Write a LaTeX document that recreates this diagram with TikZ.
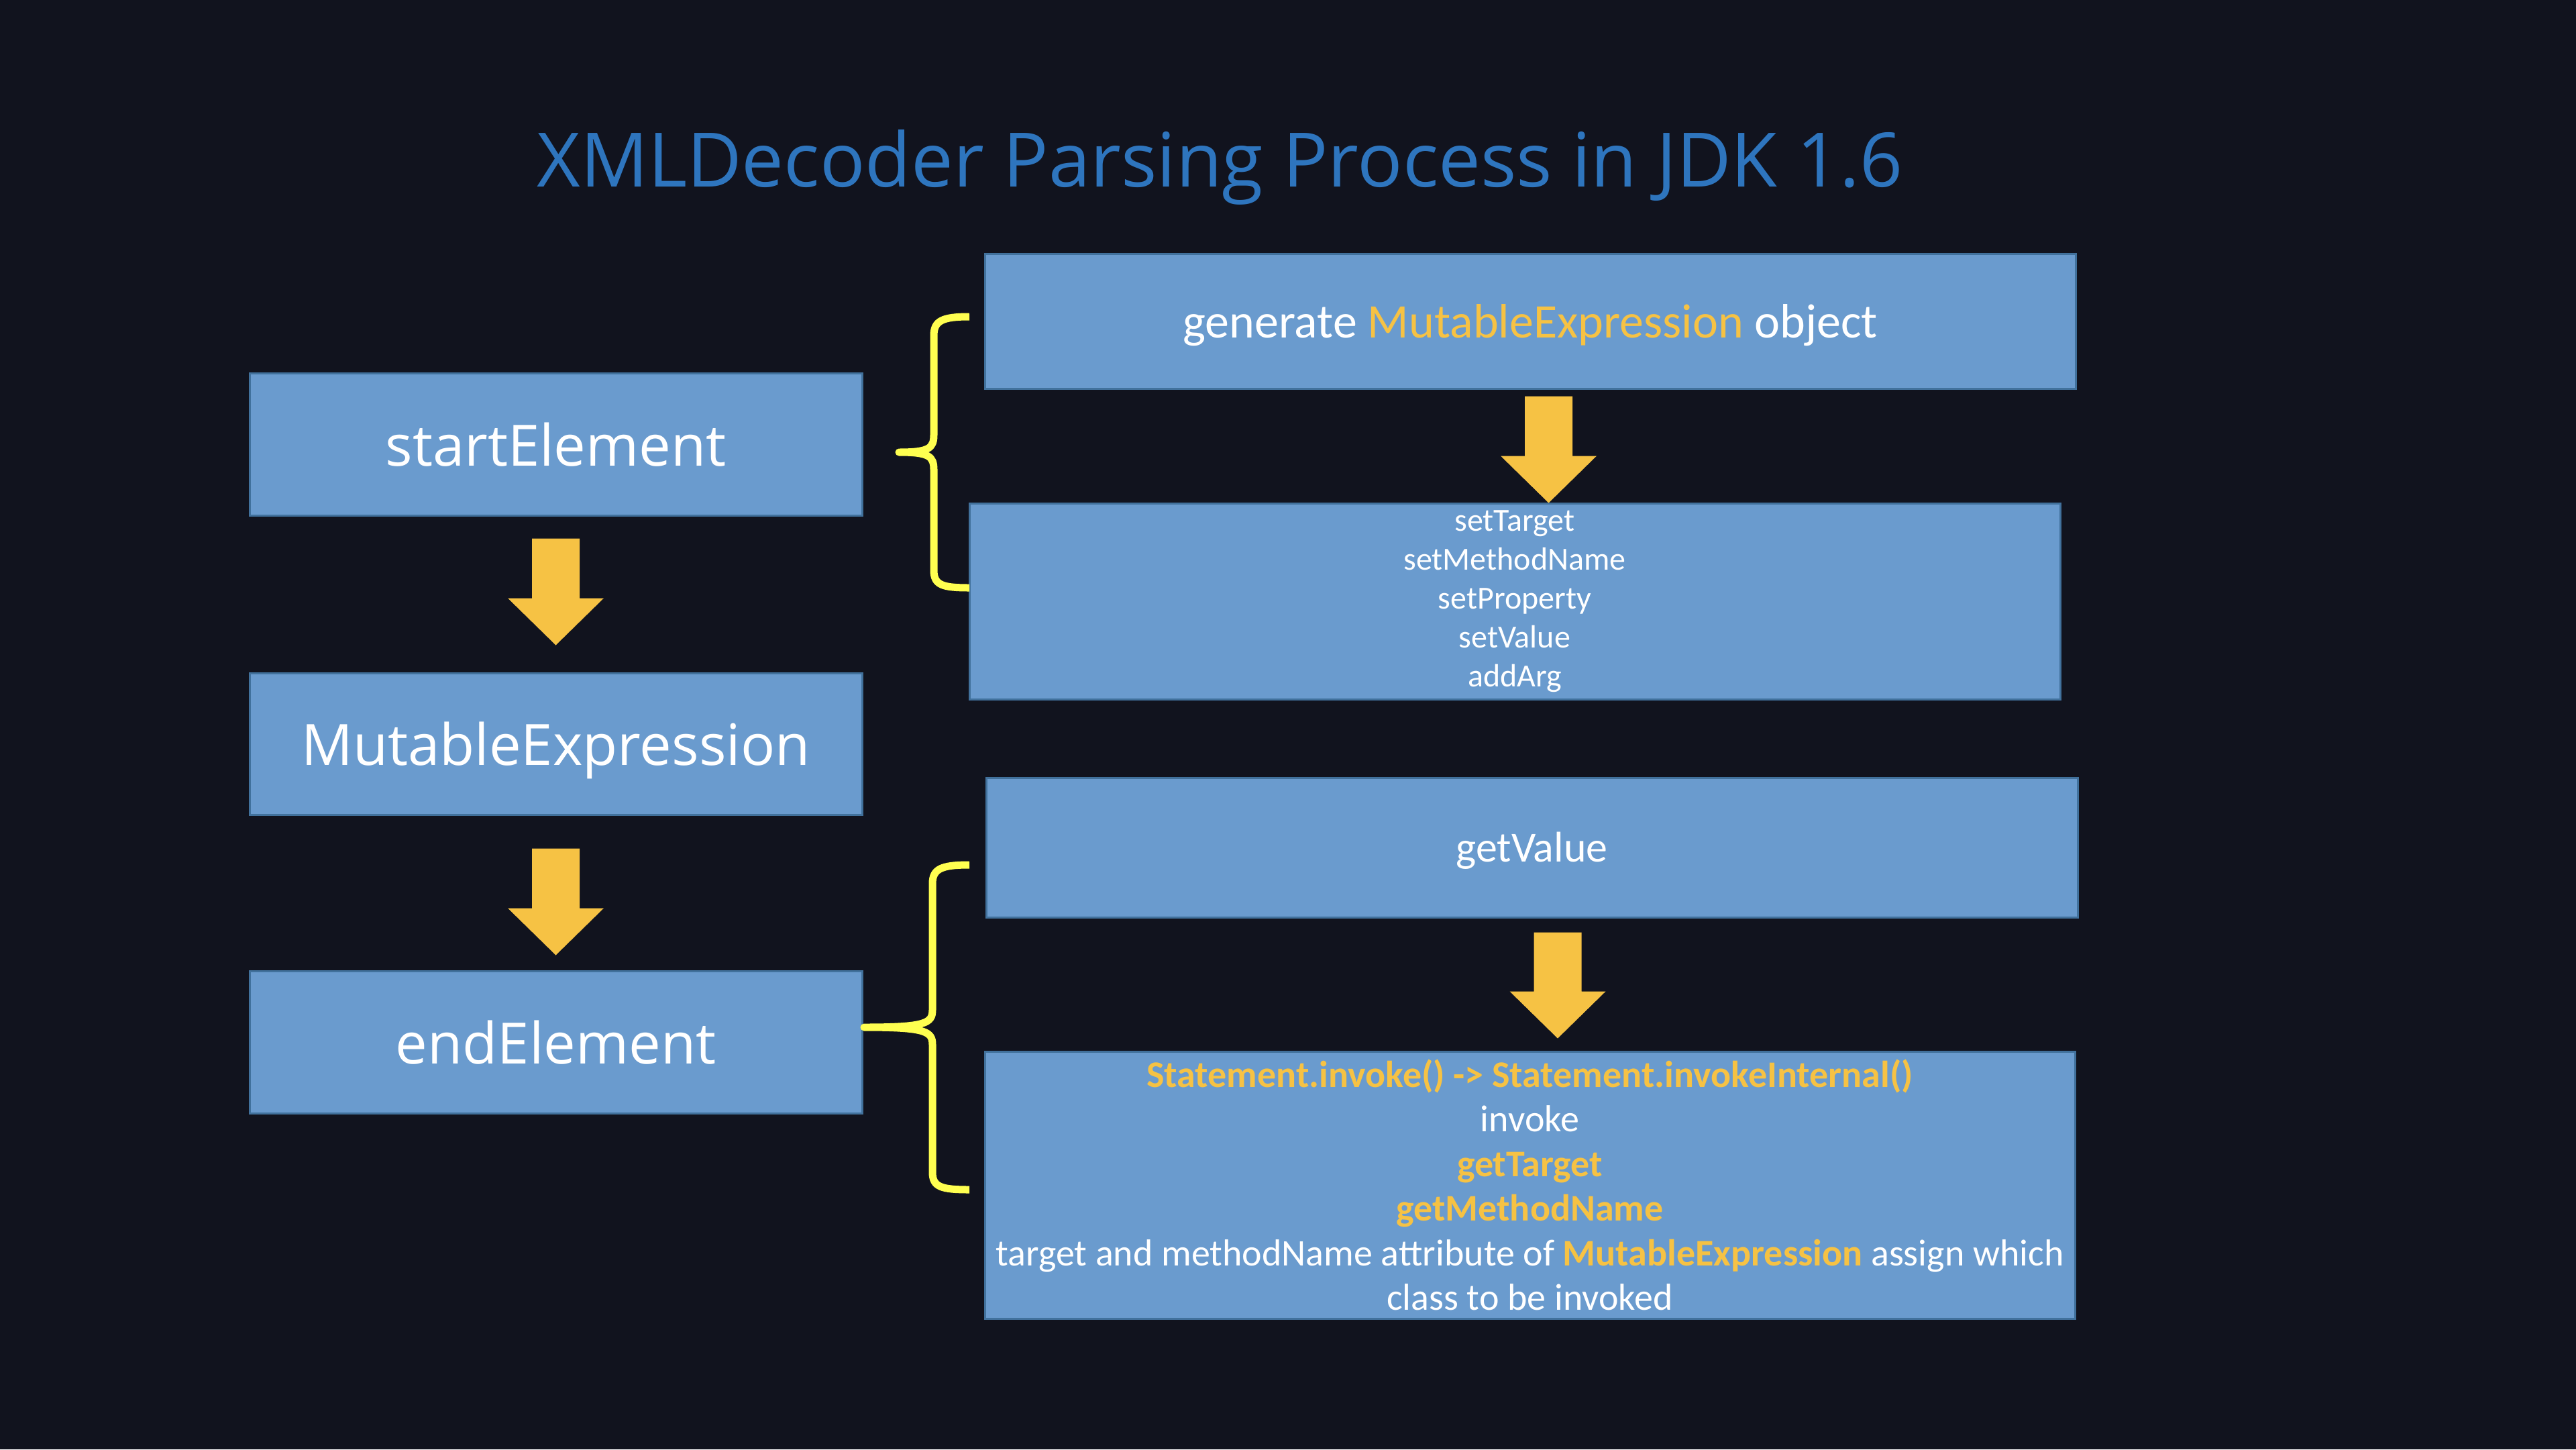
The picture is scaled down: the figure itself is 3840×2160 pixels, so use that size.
\documentclass[tikz,border=0pt]{standalone}
\usepackage{fontspec}
\setmainfont{Carlito}
\newfontfamily\osans{Open Sans}
\usetikzlibrary{calc}
\definecolor{bg}{HTML}{11131E}
\definecolor{boxfill}{HTML}{6A9BCE}
\definecolor{boxline}{HTML}{41719C}
\definecolor{arrowc}{HTML}{F6C244}
\definecolor{titlec}{HTML}{2E75BE}
\definecolor{bracec}{HTML}{FFFF50}
\definecolor{hl}{HTML}{F6C244}

\newcommand{\blockarrow}[2]{%
  \fill[arrowc] let \p1=#1, \p2=#2 in
    (\x1-35.5pt,\y1) -- (\x1+35.5pt,\y1) -- (\x1+35.5pt,\y2+70pt) -- (\x1+71.5pt,\y2+70pt)
    -- (\x1,\y2) -- (\x1-71.5pt,\y2+70pt) -- (\x1-35.5pt,\y2+70pt) -- cycle;}

\tikzset{
  basebox/.style={draw=boxline, fill=boxfill, line width=3pt, inner sep=0pt, text=white},
  lbox/.style={basebox, minimum width=913pt, minimum height=212pt,
     font=\osans\fontsize{85}{100}\selectfont, text height=64pt, text depth=0pt},
  rbox/.style={basebox, minimum width=1626pt},
  bracepath/.style={draw=bracec, line width=11pt, line cap=butt, line join=round},
}

\begin{document}
\begin{tikzpicture}[x=1pt,y=-1pt]
\useasboundingbox (0,0) rectangle (3840,2160);
\fill[bg] (0,0) rectangle (3840,2160);

% title
\node[font=\osans\fontsize{112}{130}\selectfont, text=titlec, inner sep=0pt,
      text height=83pt, text depth=0pt] (title) at (1818.5,236.5)
      {XMLDecoder Parsing Process in JDK 1.6};

% left column
\node[lbox] (se) at (828.5,662) {startElement};
\node[lbox, minimum height=211pt] (me) at (828.5,1108.5) {MutableExpression};
\node[lbox] (ee) at (828.5,1553) {endElement};

% right column
\node[rbox, minimum height=201pt, font=\fontsize{72}{86}\selectfont,
      text height=49pt, text depth=0pt] (ge) at (2281,478.5)
      {generate {\color{hl}MutableExpression} object};
\node[rbox, minimum height=292pt, align=center,
      font=\fontsize{48}{58}\selectfont] (sv) at (2258,896)
      {setTarget\\setMethodName\\setProperty\\setValue\\addArg};
\node[rbox, minimum width=1627pt, minimum height=208pt, font=\fontsize{64}{76}\selectfont,
      text height=43pt, text depth=0pt] (gv) at (2283.5,1263) {getValue};
\node[rbox, minimum width=1625pt, minimum height=398pt, align=center,
      font=\fontsize{56}{66.5}\selectfont] (iv) at (2280.5,1766)
      {\textbf{\color{hl}Statement.invoke() -> Statement.invokeInternal()}\\
       invoke\\
       \textbf{\color{hl}getTarget}\\
       \textbf{\color{hl}getMethodName}\\
       target and methodName attribute of \textbf{\color{hl}MutableExpression} assign which\\
       class to be invoked};

% block arrows
\blockarrow{($(se.south)+(0,33)$)}{($(me.north)+(0,-40)$)}
\blockarrow{($(me.south)+(0,49)$)}{($(ee.north)+(0,-22)$)}
\blockarrow{($(ge.south)+(27.5,10)$)}{($(sv.north)+(50.5,1)$)}
\blockarrow{($(gv.south)+(38.5,21)$)}{($(iv.north)+(38.5,-18)$)}

% braces
\draw[bracepath] (1445,472) .. controls (1405,472) and (1392,478) .. (1392,500)
  -- (1392,648) .. controls (1392,668) and (1385,674) .. (1340,674)
  .. controls (1385,674) and (1392,680) .. (1392,700)
  -- (1392,850) .. controls (1392,872) and (1405,876) .. (1445,876);
\draw[bracepath] (1445,1289) .. controls (1403,1289) and (1390,1295) .. (1390,1317)
  -- (1390,1505) .. controls (1390,1525) and (1380,1531) .. (1288,1531)
  .. controls (1380,1531) and (1390,1537) .. (1390,1557)
  -- (1390,1747) .. controls (1390,1769) and (1403,1773) .. (1445,1773);
\end{tikzpicture}
\end{document}
